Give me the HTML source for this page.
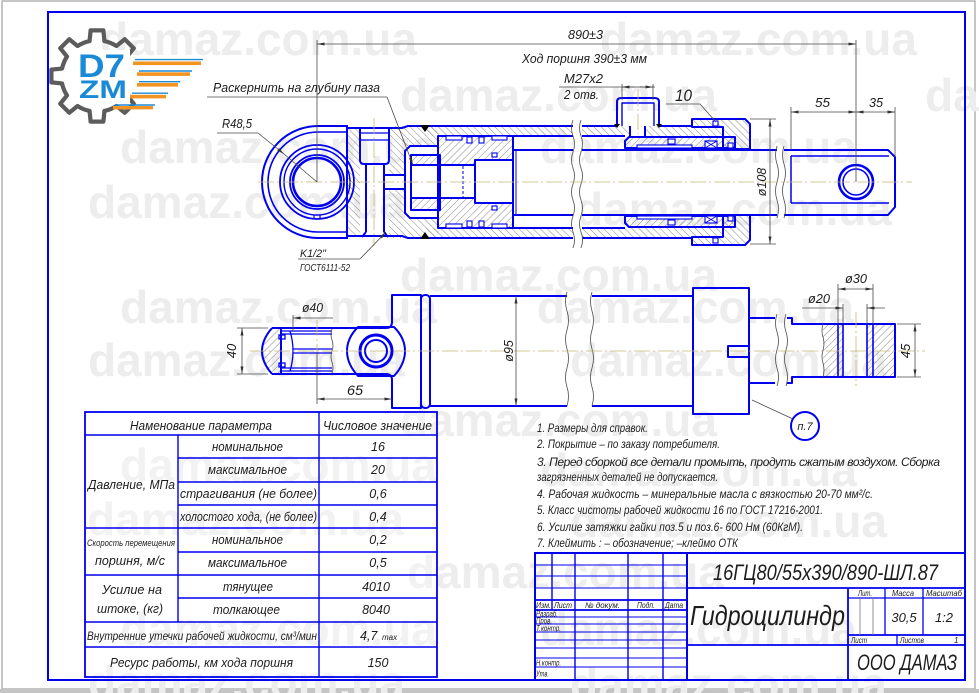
<!DOCTYPE html>
<html><head><meta charset="utf-8">
<style>
html,body{margin:0;padding:0;background:#fff;}
svg{display:block;}
.wm{font-family:"Liberation Sans",sans-serif;font-weight:bold;fill:#ededed;font-size:46px;}
.t{font-family:"Liberation Sans","DejaVu Sans",sans-serif;font-style:italic;fill:#1c1c1c;}
.o{fill:none;stroke:#0000ee;stroke-width:2;stroke-linejoin:round;}
.o1{fill:none;stroke:#0000ee;stroke-width:1.3;}
.d{fill:none;stroke:#4a4a4a;stroke-width:0.8;}
.c{fill:none;stroke:#c8b878;stroke-width:0.8;stroke-dasharray:16 3 2 3;}
.w{fill:#fff;stroke:none;}
.sw{fill:#fff;stroke:#0000ee;stroke-width:1.1;}
</style></head><body>
<svg width="979" height="693" viewBox="0 0 979 693" xmlns="http://www.w3.org/2000/svg">
<defs>
<pattern id="h1" patternUnits="userSpaceOnUse" width="5" height="5" patternTransform="rotate(45)"><line x1="0" y1="0" x2="0" y2="5" stroke="#6a6a6a" stroke-width="0.8"/></pattern>
<pattern id="h2" patternUnits="userSpaceOnUse" width="5" height="5" patternTransform="rotate(-45)"><line x1="0" y1="0" x2="0" y2="5" stroke="#6a6a6a" stroke-width="0.8"/></pattern>
<marker id="ar" viewBox="0 0 10 4" refX="10" refY="2" markerWidth="9" markerHeight="3" markerUnits="userSpaceOnUse" orient="auto-start-reverse"><path d="M0,0L10,2L0,4z" fill="#333"/></marker>
</defs>

<!-- page border -->
<rect x="2" y="1" width="973" height="688" fill="none" stroke="#a0a0a0" stroke-width="1.2"/>
<rect x="0" y="689" width="979" height="4" fill="#c4c4c4"/>

<!-- watermarks -->
<g class="wm">
<text x="100" y="55">damaz.com.ua</text><text x="600" y="55">damaz.com.ua</text>
<text x="400" y="111">damaz.com.ua</text><text x="925" y="111">damaz.com.ua</text>
<text x="120" y="163">damaz.com.ua</text><text x="540" y="163">damaz.com.ua</text>
<text x="88" y="218">damaz.com.ua</text><text x="575" y="225">damaz.com.ua</text>
<text x="400" y="291">damaz.com.ua</text>
<text x="120" y="323">damaz.com.ua</text><text x="537" y="323">damaz.com.ua</text>
<text x="88" y="376">damaz.com.ua</text><text x="570" y="376">damaz.com.ua</text>
<text x="400" y="436">damaz.com.ua</text>
<text x="120" y="481">damaz.com.ua</text><text x="540" y="486">damaz.com.ua</text>
<text x="87" y="535">damaz.com.ua</text><text x="570" y="537">damaz.com.ua</text>
<text x="407" y="588">damaz.com.ua</text>
<text x="120" y="645">damaz.com.ua</text><text x="540" y="645">damaz.com.ua</text>
<text x="88" y="698">damaz.com.ua</text><text x="570" y="700">damaz.com.ua</text>
</g>

<!-- blue frame -->
<rect x="48" y="12" width="917" height="668" fill="none" stroke="#0000ee" stroke-width="2"/>

<!-- logo -->
<path transform="translate(97,76) scale(0.94) translate(-93,-77)" fill="none" stroke="#5c5c5c" stroke-width="4.5" stroke-linejoin="round" d="M126.6,94.8 A38,38 0 0 1 124.9,97.7 L132.1,106.5 L122.5,116.1 L113.7,108.9 A38,38 0 0 1 100.9,114.2 L99.8,125.5 L86.2,125.5 L85.1,114.2 A38,38 0 0 1 72.3,108.9 L63.5,116.1 L53.9,106.5 L61.1,97.7 A38,38 0 0 1 55.8,84.9 L44.5,83.8 L44.5,70.2 L55.8,69.1 A38,38 0 0 1 61.1,56.3 L53.9,47.5 L63.5,37.9 L72.3,45.1 A38,38 0 0 1 85.1,39.8 L86.2,28.5 L99.8,28.5 L100.9,39.8 A38,38 0 0 1 113.7,45.1 L122.5,37.9 L132.1,47.5 L124.9,56.3 A38,38 0 0 1 126.6,59.2"/>
<rect x="74" y="50" width="56" height="52" fill="#fff"/>
<text x="78" y="77" font-family="Liberation Sans,sans-serif" font-weight="bold" font-size="32" fill="#1b8ad6" textLength="47" lengthAdjust="spacingAndGlyphs">D7</text>
<text x="79" y="98" font-family="Liberation Sans,sans-serif" font-weight="bold" font-size="25" fill="#1b8ad6" textLength="48" lengthAdjust="spacingAndGlyphs">ZM</text>
<g>
<rect x="133" y="61.5" width="68" height="3.6" fill="#f39322"/><line x1="135" y1="59.6" x2="203" y2="59.6" stroke="#1b8ad6" stroke-width="1.4"/>
<rect x="137" y="72.3" width="53" height="3.6" fill="#f39322"/><line x1="139" y1="71" x2="192" y2="71" stroke="#1b8ad6" stroke-width="1.4"/>
<rect x="137" y="83" width="41" height="3.6" fill="#f39322"/><line x1="139" y1="81.7" x2="180" y2="81.7" stroke="#1b8ad6" stroke-width="1.4"/>
<rect x="130" y="94.8" width="36" height="3.6" fill="#f39322"/><line x1="132" y1="93.2" x2="168" y2="93.2" stroke="#1b8ad6" stroke-width="1.4"/>
<rect x="113" y="106" width="40" height="3.4" fill="#f39322"/><line x1="115" y1="105" x2="155" y2="105" stroke="#1b8ad6" stroke-width="1.4"/>
</g>

<!-- ================= TOP VIEW ================= -->
<g fill="url(#h2)">
<rect x="347" y="128" width="13" height="108"/>
<rect x="389" y="126" width="49" height="112"/>
<rect x="425" y="126" width="148" height="10"/>
<rect x="425" y="228" width="148" height="10"/>
<rect x="582" y="126" width="48" height="10"/>
<rect x="645" y="126" width="78" height="10"/>
<rect x="582" y="228" width="141" height="10"/>
<path d="M692,127 V119 H745 L750,124 V149 H723 V127 Z"/>
<path d="M692,237 V245 H745 L750,240 V215 H723 V237 Z"/>
</g>
<rect class="w" x="405" y="146" width="33" height="72"/>
<rect class="w" x="384" y="175" width="21" height="14"/>
<g fill="url(#h1)">
<rect x="411" y="155" width="29" height="55"/>
<rect x="438" y="136" width="75" height="92"/>
<path d="M625,148 V141 L629,137 H735 V148 Z"/>
<path d="M625,216 V223 L629,227 H735 V216 Z"/>
</g>
<rect class="w" x="411" y="165" width="64" height="33"/>
<rect class="w" x="475" y="160" width="38" height="43"/>

<g class="o">
<path d="M348,126 H318 A56,56 0 0 0 318,238 H348"/>
<path d="M348,132 H318 A50,50 0 0 0 318,232 H348" stroke-width="1.6"/>
<circle cx="317" cy="182" r="37" stroke-width="1.8"/>
<circle cx="317" cy="182" r="33" stroke-width="1.4"/>
<circle cx="317" cy="182" r="27" stroke-width="1.8"/>
<circle cx="317" cy="182" r="24" stroke-width="2.6"/>
<path d="M314,215 V219 M320,215 V219" stroke-width="1.2"/>
<path d="M347,128 H402 L408,126 H573"/>
<path d="M347,236 H402 L408,238 H573"/>
<path d="M347,126 V238"/>
<path d="M360,128 V160 Q360,164 364,164 H385 Q389,164 389,160 V128"/>
<path d="M361,133 H388 M361,140 H388" stroke-width="1.2"/>
<path d="M366,164 V232 M384,164 V232 M362,237 L366,232 M388,237 L384,232"/>
<path d="M384,175 H405 M384,189 H405"/>
<path d="M438,146 H410 L405,151 V213 L410,218 H438"/>
<rect x="411" y="155" width="29" height="55"/>
<rect x="411" y="165" width="64" height="33"/>
<rect x="438" y="136" width="75" height="92"/>
<rect x="475" y="160" width="38" height="43"/>
<path d="M513,136 H573 M513,228 H573 M513,150 H573 M513,215 H573"/>
<path d="M516,150 V215" stroke-width="1"/>
<path d="M582,126 H617 M659,126 H692 M582,136 H625 M582,238 H692 M582,228 H625"/>
<path d="M582,150 H777 M582,215 H777"/>
<path d="M617,126 V102 Q617,98 621,98 H655 Q659,98 659,102 V126"/>
<path d="M622,126 V103 H654 V126" stroke-width="1.4"/>
<path d="M630,126 V136 M645,126 V136"/>
<path d="M625,148 V141 L629,137 H735 V148 Z"/>
<path d="M625,216 V223 L629,227 H735 V216 Z"/>
<path d="M692,127 V119 H745 L750,124 V149 H723 V127 Z"/>
<path d="M692,237 V245 H745 L750,240 V215 H723 V237 Z"/>
<path d="M784,150 H888 L895,157 V207 L888,215 H784"/>
<path d="M791,156 H889 M791,203 H889 M791,156 V203" stroke-width="1.5"/>
<circle cx="856" cy="182" r="17" stroke-width="2.6"/>
<circle cx="856" cy="182" r="13" stroke-width="1.6"/>
</g>
<line x1="463" y1="166" x2="463" y2="197" stroke="#0000ee" stroke-width="1" stroke-dasharray="3 2"/>
<g class="sw">
<rect x="446" y="136" width="16" height="4"/><rect x="467" y="137" width="5" height="6"/><rect x="479" y="137" width="5" height="6"/><rect x="492" y="136" width="15" height="4"/>
<rect x="446" y="224" width="16" height="4"/><rect x="467" y="221" width="5" height="6"/><rect x="479" y="221" width="5" height="6"/><rect x="492" y="224" width="15" height="4"/>
<rect x="492" y="153" width="5" height="4"/><rect x="492" y="206" width="5" height="4"/>
<rect x="637" y="145" width="55" height="3"/><rect x="637" y="216" width="55" height="3"/>
<rect x="668" y="139" width="7" height="5"/><rect x="668" y="220" width="7" height="5"/>
<rect x="705" y="141" width="12" height="7"/><rect x="705" y="216" width="12" height="7"/>
<rect x="728" y="143" width="5" height="5"/><rect x="728" y="216" width="5" height="5"/>
<rect x="713" y="121" width="5" height="5"/><rect x="713" y="238" width="5" height="5"/>
</g>
<path d="M705,141 L717,148 M717,141 L705,148 M705,216 L717,223 M717,216 L705,223" stroke="#0000ee" stroke-width="0.8"/>
<path d="M420,125 L430,125 L425,132 Z M420,239 L430,239 L425,232 Z M614,124 L620,124 L617,128 Z M656,124 L662,124 L659,128 Z" fill="#000"/>
<rect class="w" x="574" y="118" width="7" height="126"/>
<path class="d" d="M573,120 q-3,8 0,16 q3,8 0,16 q-3,8 0,16 q3,8 0,16 q-3,8 0,16 q3,8 0,16 q-3,8 0,16 q3,8 0,16"/>
<path class="d" d="M581,120 q-3,8 0,16 q3,8 0,16 q-3,8 0,16 q3,8 0,16 q-3,8 0,16 q3,8 0,16 q-3,8 0,16 q3,8 0,16"/>
<rect class="w" x="778" y="146" width="5" height="73"/>
<path class="d" d="M777,146 q-3,9 0,18 q3,9 0,18 q-3,9 0,18 q3,9 0,18"/>
<path class="d" d="M784,146 q-3,9 0,18 q3,9 0,18 q-3,9 0,18 q3,9 0,18"/>
<line class="c" x1="258" y1="182" x2="912" y2="182"/>
<line class="c" x1="374" y1="118" x2="374" y2="246"/>
<line class="c" x1="638" y1="90" x2="638" y2="134"/>

<g class="d">
<line x1="317" y1="40" x2="317" y2="182"/>
<line x1="856" y1="40" x2="856" y2="182"/>
<line x1="317" y1="44" x2="856" y2="44" marker-start="url(#ar)" marker-end="url(#ar)"/>
<line x1="559" y1="87" x2="655" y2="87"/>
<line x1="622" y1="84" x2="622" y2="100"/><line x1="653" y1="84" x2="653" y2="100"/>
<line x1="635" y1="87" x2="622" y2="87" marker-end="url(#ar)"/>
<line x1="640" y1="87" x2="653" y2="87" marker-end="url(#ar)"/>
<path d="M666,104 H700 L716,122"/>
<line x1="750" y1="119" x2="776" y2="119"/><line x1="750" y1="244" x2="776" y2="244"/>
<line x1="770" y1="119" x2="770" y2="244" marker-start="url(#ar)" marker-end="url(#ar)"/>
<line x1="791" y1="107" x2="791" y2="150"/><line x1="895" y1="107" x2="895" y2="157"/>
<line x1="791" y1="112" x2="856" y2="112" marker-start="url(#ar)" marker-end="url(#ar)"/>
<line x1="856" y1="112" x2="895" y2="112" marker-start="url(#ar)" marker-end="url(#ar)"/>
<path d="M207,97 H387"/><line x1="387" y1="97" x2="413" y2="165" marker-end="url(#ar)"/>
<path d="M217,133 H258"/><line x1="258" y1="133" x2="284" y2="154" marker-end="url(#ar)"/><line x1="284" y1="154" x2="317" y2="182"/>
<path d="M298,259 H360"/><line x1="360" y1="259" x2="386" y2="232" marker-end="url(#ar)"/>
</g>
<g class="t">
<text x="568" y="39" font-size="13" textLength="35" lengthAdjust="spacingAndGlyphs">890±3</text>
<text x="522" y="63" font-size="13" textLength="125" lengthAdjust="spacingAndGlyphs">Ход поршня 390±3 мм</text>
<text x="564" y="83" font-size="13" textLength="39" lengthAdjust="spacingAndGlyphs">M27x2</text>
<text x="564" y="99" font-size="13" textLength="35" lengthAdjust="spacingAndGlyphs">2 отв.</text>
<text x="675" y="101" font-size="17" textLength="17" lengthAdjust="spacingAndGlyphs">10</text>
<text x="815" y="107" font-size="13" textLength="15" lengthAdjust="spacingAndGlyphs">55</text>
<text x="869" y="107" font-size="13" textLength="14" lengthAdjust="spacingAndGlyphs">35</text>
<text transform="translate(766,182) rotate(-90)" text-anchor="middle" font-size="12.5">ø108</text>
<text x="213" y="92" font-size="13" textLength="167" lengthAdjust="spacingAndGlyphs">Раскернить на глубину паза</text>
<text x="222" y="128" font-size="13" textLength="30" lengthAdjust="spacingAndGlyphs">R48,5</text>
<text x="300" y="257" font-size="11" textLength="26" lengthAdjust="spacingAndGlyphs">K1/2"</text>
<text x="300" y="271" font-size="10" textLength="50" lengthAdjust="spacingAndGlyphs">ГОСТ6111-52</text>
</g>

<!-- ================= BOTTOM VIEW ================= -->
<g fill="url(#h1)">
<path d="M272,328 Q252,351 272,374 H281 V328 Z"/>
<rect x="823" y="324" width="20" height="53"/>
<rect x="867" y="324" width="28" height="53"/>
</g>
<g class="o">
<path d="M272,328 H386 Q392,328 392,322 V295 H421 V408 H392 V380 Q392,374 386,374 H272"/>
<path d="M272,328 Q252,351 272,374"/>
<line x1="281" y1="328" x2="281" y2="374"/>
<rect x="421" y="295" width="9" height="113" rx="4"/>
<path d="M430,296 H567 M430,406 H567 M592,296 H693 M592,406 H693"/>
<rect x="693" y="288" width="56" height="126"/>
<path d="M749,346 H728 V357 H749"/>
<path d="M749,318 H775 M749,383 H775"/>
<path d="M787,318 H792 V324 H895 V377 H792 V383 H787"/>
<path d="M838,324 V377 M843,324 V377 M867,324 V377 M873,324 V377" stroke-width="1.6"/>
<path d="M358,327 H394 Q405,338 405,351 Q405,364 394,376 H358 Q347,364 347,351 Q347,338 358,327 Z"/>
<circle cx="376" cy="351" r="16" stroke-width="3"/>
<circle cx="376" cy="351" r="11" stroke-width="2"/>
</g>
<g class="o1">
<path d="M281,331 H332 M281,334 H332 M293,349 H332 M293,353 H332 M281,368 H332 M281,371 H332"/>
<path d="M290,331 Q296,351 290,371"/>
<rect x="279" y="335" width="6" height="4"/><rect x="279" y="363" width="6" height="4"/>
</g>
<path class="d" d="M332,329 q-2,6 0,11 q2,6 0,11 q-2,6 0,11 q2,6 0,11"/>
<path class="d" d="M567,292 q-3,9 0,19 q3,9 0,19 q-3,9 0,19 q3,9 0,19 q-3,9 0,19 q3,9 0,19"/>
<path class="d" d="M592,292 q-3,9 0,19 q3,9 0,19 q-3,9 0,19 q3,9 0,19 q-3,9 0,19 q3,9 0,19"/>
<path class="d" d="M777,314 q-3,9 0,18 q3,9 0,18 q-3,9 0,18 q3,9 0,18"/>
<path class="d" d="M786,314 q-3,9 0,18 q3,9 0,18 q-3,9 0,18 q3,9 0,18"/>
<path class="d" d="M823,324 q-2,7 0,13 q2,7 0,13 q-2,7 0,13 q2,7 0,14"/>
<line class="c" x1="250" y1="351" x2="925" y2="351"/>
<line class="c" x1="317" y1="320" x2="317" y2="352"/>
<line class="c" x1="856" y1="312" x2="856" y2="386"/>
<g class="d">
<line x1="237" y1="328" x2="268" y2="328"/><line x1="237" y1="374" x2="268" y2="374"/>
<line x1="242" y1="328" x2="242" y2="374" marker-start="url(#ar)" marker-end="url(#ar)"/>
<line x1="293" y1="315" x2="293" y2="331"/>
<line x1="333" y1="318" x2="293" y2="318" marker-end="url(#ar)"/>
<line x1="317" y1="352" x2="317" y2="404"/>
<line x1="317" y1="399" x2="392" y2="399" marker-start="url(#ar)" marker-end="url(#ar)"/>
<line x1="516" y1="296" x2="516" y2="406" marker-start="url(#ar)" marker-end="url(#ar)"/>
<line x1="838" y1="284" x2="838" y2="324"/><line x1="873" y1="284" x2="873" y2="324"/>
<line x1="838" y1="289" x2="873" y2="289" marker-start="url(#ar)" marker-end="url(#ar)"/>
<line x1="843" y1="304" x2="843" y2="324"/><line x1="867" y1="304" x2="867" y2="324"/>
<line x1="802" y1="308" x2="843" y2="308" marker-end="url(#ar)"/>
<line x1="885" y1="308" x2="867" y2="308" marker-end="url(#ar)"/>
<line x1="897" y1="324" x2="921" y2="324"/><line x1="897" y1="377" x2="921" y2="377"/>
<line x1="915" y1="324" x2="915" y2="377" marker-start="url(#ar)" marker-end="url(#ar)"/>
<line x1="752" y1="400" x2="793" y2="419"/>
</g>
<circle cx="805" cy="426" r="14" fill="#fff" stroke="#0000ee" stroke-width="2"/>
<g class="t">
<text x="302" y="312" font-size="13" textLength="21" lengthAdjust="spacingAndGlyphs">ø40</text>
<text transform="translate(236,351) rotate(-90)" text-anchor="middle" font-size="13">40</text>
<text x="347" y="395" font-size="14" textLength="16" lengthAdjust="spacingAndGlyphs">65</text>
<text transform="translate(513,351) rotate(-90)" text-anchor="middle" font-size="12.5">ø95</text>
<text x="845" y="283" font-size="12.5" textLength="22" lengthAdjust="spacingAndGlyphs">ø30</text>
<text x="808" y="303" font-size="12.5" textLength="22" lengthAdjust="spacingAndGlyphs">ø20</text>
<text transform="translate(910,351) rotate(-90)" text-anchor="middle" font-size="13">45</text>
<text x="805" y="430" text-anchor="middle" font-size="11">п.7</text>
</g>

<!-- ================= PARAMETER TABLE ================= -->
<rect x="85" y="412" width="352" height="265" fill="#fff" fill-opacity="0.3" stroke="#0000ee" stroke-width="1.8"/>
<g stroke="#0000ee" stroke-width="1.4" fill="none">
<path d="M85,435 H437 M85,528 H437 M85,575 H437 M85,622 H437 M85,647 H437"/>
<path d="M178,458 H437 M178,482 H437 M178,505 H437 M178,552 H437 M178,598 H437"/>
<path d="M319,412 V677 M178,435 V622"/>
</g>
<g class="t" font-size="12.5">
<text x="130" y="430" textLength="142" lengthAdjust="spacingAndGlyphs">Наменование параметра</text>
<text x="323" y="430" textLength="109" lengthAdjust="spacingAndGlyphs">Числовое значение</text>
<text x="88" y="489" textLength="87" lengthAdjust="spacingAndGlyphs">Давление, МПа</text>
<text x="212" y="451" textLength="71" lengthAdjust="spacingAndGlyphs">номинальное</text>
<text x="208" y="474" textLength="79" lengthAdjust="spacingAndGlyphs">максимальное</text>
<text x="180" y="498" textLength="137" lengthAdjust="spacingAndGlyphs">страгивания (не более)</text>
<text x="180" y="521" textLength="137" lengthAdjust="spacingAndGlyphs">холостого хода, (не более)</text>
<text x="87" y="546" font-size="9" textLength="88" lengthAdjust="spacingAndGlyphs">Скорость перемещения</text>
<text x="95" y="565" textLength="70" lengthAdjust="spacingAndGlyphs">поршня, м/с</text>
<text x="212" y="544" textLength="71" lengthAdjust="spacingAndGlyphs">номинальное</text>
<text x="208" y="567" textLength="79" lengthAdjust="spacingAndGlyphs">максимальное</text>
<text x="102" y="594" textLength="60" lengthAdjust="spacingAndGlyphs">Усилие на</text>
<text x="97" y="613" textLength="66" lengthAdjust="spacingAndGlyphs">штоке, (кг)</text>
<text x="223" y="591" textLength="50" lengthAdjust="spacingAndGlyphs">тянущее</text>
<text x="213" y="614" textLength="67" lengthAdjust="spacingAndGlyphs">толкающее</text>
<text x="87" y="640" font-size="12" textLength="230" lengthAdjust="spacingAndGlyphs">Внутренние утечки рабочей жидкости, см³/мин</text>
<text x="110" y="667" textLength="183" lengthAdjust="spacingAndGlyphs">Ресурс работы, км хода поршня</text>
<g text-anchor="middle">
<text x="378" y="451">16</text><text x="378" y="474">20</text><text x="378" y="498">0,6</text><text x="378" y="521">0,4</text>
<text x="378" y="544">0,2</text><text x="378" y="567">0,5</text><text x="376" y="591">4010</text><text x="376" y="614">8040</text>
<text x="378" y="667">150</text>
</g>
<text x="360" y="640">4,7</text>
<text x="382" y="640" font-size="8">max</text>
</g>

<!-- ================= NOTES ================= -->
<g class="t" font-size="12">
<text x="537" y="432" textLength="111" lengthAdjust="spacingAndGlyphs">1. Размеры для справок.</text>
<text x="537" y="448" textLength="183" lengthAdjust="spacingAndGlyphs">2. Покрытие – по заказу потребителя.</text>
<text x="537" y="466" textLength="403" lengthAdjust="spacing">3. Перед сборкой все детали промыть, продуть сжатым воздухом. Сборка</text>
<text x="537" y="481" textLength="181" lengthAdjust="spacingAndGlyphs">загрязненных деталей не допускается.</text>
<text x="537" y="498" textLength="336" lengthAdjust="spacingAndGlyphs">4.   Рабочая жидкость – минеральные масла с вязкостью 20-70 мм²/с.</text>
<text x="537" y="514" textLength="286" lengthAdjust="spacingAndGlyphs">5. Класс чистоты рабочей жидкости 16 по ГОСТ 17216-2001.</text>
<text x="537" y="531" textLength="266" lengthAdjust="spacingAndGlyphs">6. Усилие затяжки гайки поз.5 и поз.6- 600 Нм (60КгМ).</text>
<text x="537" y="547" textLength="201" lengthAdjust="spacingAndGlyphs">7. Клеймить : – обозначение; –клеймо ОТК</text>
</g>

<!-- ================= TITLE BLOCK ================= -->
<rect x="535" y="553" width="430" height="127" fill="none" stroke="#0000ee" stroke-width="2"/>
<g stroke="#0000ee" fill="none">
<path d="M535,600 H687 M535,610 H687" stroke-width="1.8"/>
<path d="M535,565 H687 M535,576 H687 M535,588 H687 M535,617 H687 M535,624 H687 M535,632 H687 M535,640 H687 M535,648 H687 M535,658 H687 M535,667 H687" stroke-width="1"/>
<path d="M552,553 V610 M575,553 V680 M628,553 V680 M663,553 V680" stroke-width="1.4"/>
<path d="M687,553 V680" stroke-width="2"/>
<path d="M687,588 H965 M848,588 V680 M687,645 H965 M848,635 H965" stroke-width="1.8"/>
<path d="M848,598 H965 M885,588 V635 M923,588 V635 M897,635 V645" stroke-width="1.3"/>
</g>
<path d="M860,598 V635 M873,598 V635" stroke="#777" stroke-width="0.8"/>
<g class="t">
<text x="713" y="580" font-size="22" textLength="225" lengthAdjust="spacingAndGlyphs">16ГЦ80/55х390/890-ШЛ.87</text>
<text x="690" y="625" font-size="28" textLength="155" lengthAdjust="spacingAndGlyphs">Гидроцилиндр</text>
<text x="857" y="670" font-size="22" textLength="100" lengthAdjust="spacingAndGlyphs">ООО ДАМАЗ</text>
<text x="904" y="622" font-size="13" text-anchor="middle">30,5</text>
<text x="944" y="622" font-size="13" text-anchor="middle">1:2</text>
<g font-size="8">
<text x="858" y="596" textLength="14" lengthAdjust="spacingAndGlyphs">Лит.</text>
<text x="892" y="596" textLength="22" lengthAdjust="spacingAndGlyphs">Масса</text>
<text x="926" y="596" textLength="36" lengthAdjust="spacingAndGlyphs">Масштаб</text>
<text x="851" y="643" textLength="16" lengthAdjust="spacingAndGlyphs">Лист</text>
<text x="900" y="643" textLength="24" lengthAdjust="spacingAndGlyphs">Листов</text>
<text x="954" y="643">1</text>
<text x="536" y="608" textLength="15" lengthAdjust="spacingAndGlyphs">Изм.</text>
<text x="554" y="608" textLength="18" lengthAdjust="spacingAndGlyphs">Лист</text>
<text x="585" y="608" textLength="35" lengthAdjust="spacingAndGlyphs">№ докум.</text>
<text x="637" y="608" textLength="18" lengthAdjust="spacingAndGlyphs">Подп.</text>
<text x="665" y="608" textLength="18" lengthAdjust="spacingAndGlyphs">Дата</text>
<text x="536" y="616.5" textLength="22" lengthAdjust="spacingAndGlyphs">Разраб.</text>
<text x="536" y="623.5" textLength="16" lengthAdjust="spacingAndGlyphs">Пров.</text>
<text x="536" y="631" textLength="25" lengthAdjust="spacingAndGlyphs">Т.контр.</text>
<text x="536" y="665.5" textLength="25" lengthAdjust="spacingAndGlyphs">Н.контр.</text>
<text x="536" y="676.5" textLength="13" lengthAdjust="spacingAndGlyphs">Утв.</text>
</g>
</g>
</svg>
</body></html>
